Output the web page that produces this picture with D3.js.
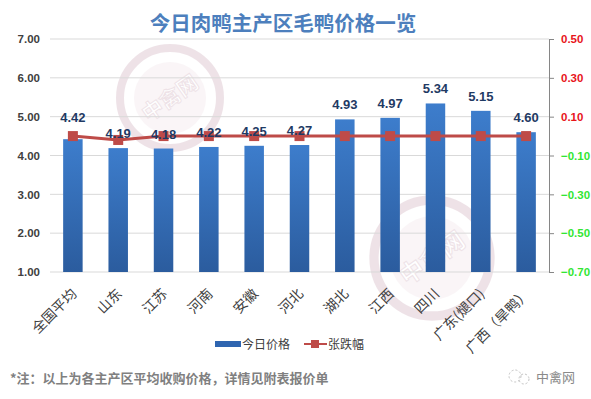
<!DOCTYPE html>
<html><head><meta charset="utf-8">
<script src="https://cdn.jsdelivr.net/npm/d3@7"></script>
<style>body{margin:0;background:#fff;}svg{display:block;font-family:"Noto Sans CJK SC","Noto Sans",sans-serif;}</style>
</head><body>
<script>
const categories = ["全国平均","山东","江苏","河南","安徽","河北","湖北","江西","四川","广东(煺口)","广西（旱鸭）"];
const prices = [4.42,4.19,4.18,4.22,4.25,4.27,4.93,4.97,5.34,5.15,4.60];
const changes = [0.00,-0.02,0.00,0.00,0.00,0.00,0.00,0.00,0.00,0.00,0.00];
const leftTicks = [1,2,3,4,5,6,7];
const rightTicks = [-0.7,-0.5,-0.3,-0.1,0.1,0.3,0.5];
const title = "今日肉鸭主产区毛鸭价格一览";
const seriesNames = ["今日价格","张跌幅"];
const note = "*注：以上为各主产区平均收购价格，详情见附表报价单";

const W=591,H=399;
const svg=d3.select("body").append("svg").attr("width",W).attr("height",H);
const m={l:50,r:549,t:39,b:272};
const x=d3.scaleBand().domain(categories).range([m.l,m.r]).paddingInner(0.57).paddingOuter(0.29);
const y=d3.scaleLinear().domain([1,7]).range([m.b,m.t]);
const y2=d3.scaleLinear().domain([-0.7,0.5]).range([m.b,m.t]);

const defs=svg.append("defs");
const g=defs.append("linearGradient").attr("id","bg").attr("x1",0).attr("y1",0).attr("x2",0).attr("y2",1);
g.append("stop").attr("offset","0%").attr("stop-color","#3d7dcc");
g.append("stop").attr("offset","100%").attr("stop-color","#2b5c9e");

// watermarks
function wm(cx,cy,r){
  const w=svg.append("g").attr("opacity",0.3);
  w.append("circle").attr("cx",cx).attr("cy",cy).attr("r",r).attr("fill","none").attr("stroke","#c9a3b3").attr("stroke-width",r*0.16);
  w.append("circle").attr("cx",cx).attr("cy",cy).attr("r",r*0.72).attr("fill","#efe0e6");
  w.append("text").attr("x",cx).attr("y",cy+r*0.15).attr("text-anchor","middle")
   .attr("transform",`rotate(-35,${cx},${cy})`).attr("font-size",r*0.42).attr("font-weight","bold")
   .attr("fill","#fff").attr("stroke","#c9a3b3").attr("stroke-width",1).text("中禽网");
}
wm(170,98,50);
wm(432,258,58);

// gridlines
svg.append("g").selectAll("line").data(leftTicks).join("line")
 .attr("x1",m.l).attr("x2",m.r).attr("y1",d=>y(d)).attr("y2",d=>y(d))
 .attr("stroke","#d9d9d9").attr("stroke-width",1);

// left axis labels
const la=svg.append("g").attr("transform",`translate(${m.l},0)`)
 .call(d3.axisLeft(y).tickValues(leftTicks).tickFormat(d3.format(".2f")).tickSize(0).tickPadding(10));
la.select(".domain").remove();
la.selectAll("text").attr("font-size",11.5).attr("font-weight","bold").attr("fill","#404040").attr("font-family","Liberation Sans, Arial, sans-serif");

// right axis
const ra=svg.append("g").attr("transform",`translate(${m.r},0)`)
 .call(d3.axisRight(y2).tickValues(rightTicks).tickFormat(d3.format(".2f")).tickSize(5).tickPadding(7));
ra.select(".domain").attr("stroke","#868686");
ra.selectAll(".tick line").attr("stroke","#868686");
ra.selectAll("text").attr("font-size",11.5).attr("font-weight","bold").attr("font-family","Liberation Sans, Arial, sans-serif")
 .attr("fill",d=>d>0?"#e8141b":"#33e633");

// bars
svg.append("g").selectAll("rect").data(prices).join("rect")
 .attr("x",(d,i)=>x(categories[i])).attr("width",x.bandwidth())
 .attr("y",d=>y(d)).attr("height",d=>y(1)-y(d)).attr("fill","url(#bg)");

// line
const line=d3.line().x((d,i)=>x(categories[i])+x.bandwidth()/2).y(d=>y2(d));
svg.append("path").datum(changes).attr("d",line).attr("fill","none").attr("stroke","#be4b48").attr("stroke-width",3);
svg.append("g").selectAll("rect").data(changes).join("rect")
 .attr("x",(d,i)=>x(categories[i])+x.bandwidth()/2-5).attr("y",d=>y2(d)-5)
 .attr("width",10).attr("height",10).attr("fill","#be4b48");

// data labels (first label was lifted in the original)
svg.append("g").selectAll("text").data(prices).join("text")
 .attr("x",(d,i)=>x(categories[i])+x.bandwidth()/2).attr("y",(d,i)=>y(d)-(i===0?17:10))
 .attr("text-anchor","middle").attr("font-size",13).attr("font-weight","bold")
 .attr("font-family","Liberation Sans, Arial, sans-serif").attr("fill","#1f3a64").text(d=>d3.format(".2f")(d));

// x labels
svg.append("g").selectAll("text").data(categories).join("text")
 .attr("transform",(d)=>`translate(${x(d)+x.bandwidth()/2+2},${m.b+20}) rotate(-45)`)
 .attr("text-anchor","end").attr("dominant-baseline","middle").attr("font-size",14).attr("fill","#404040").text(d=>d);

// title
svg.append("text").attr("x",283).attr("y",31).attr("text-anchor","middle").attr("font-size",20.5).attr("font-weight","bold")
 .attr("fill","#4d7fbd").text(title);

// legend
const lg=svg.append("g");
lg.append("rect").attr("x",215).attr("y",341).attr("width",26).attr("height",6).attr("fill","#2f65b0");
lg.append("text").attr("x",242).attr("y",348.5).attr("font-size",12).attr("fill","#404040").text(seriesNames[0]);
lg.append("line").attr("x1",304).attr("x2",327).attr("y1",344).attr("y2",344).attr("stroke","#be4b48").attr("stroke-width",2);
lg.append("rect").attr("x",311).attr("y",340).attr("width",8).attr("height",8).attr("fill","#be4b48");
lg.append("text").attr("x",328).attr("y",348.5).attr("font-size",12).attr("fill","#404040").text(seriesNames[1]);

// note
svg.append("text").attr("x",10).attr("y",383).attr("font-size",13).attr("font-weight","bold").attr("fill","#808080").text(note);

// logo
const lo=svg.append("g").attr("opacity",0.6);
lo.append("circle").attr("cx",515).attr("cy",376).attr("r",6).attr("fill","none").attr("stroke","#999").attr("stroke-dasharray","2,2");
lo.append("circle").attr("cx",524).attr("cy",379).attr("r",5).attr("fill","none").attr("stroke","#999").attr("stroke-dasharray","2,2");
svg.append("text").attr("x",536).attr("y",382).attr("font-size",13).attr("fill","#8a8a8a").text("中禽网");
</script>
</body></html>
